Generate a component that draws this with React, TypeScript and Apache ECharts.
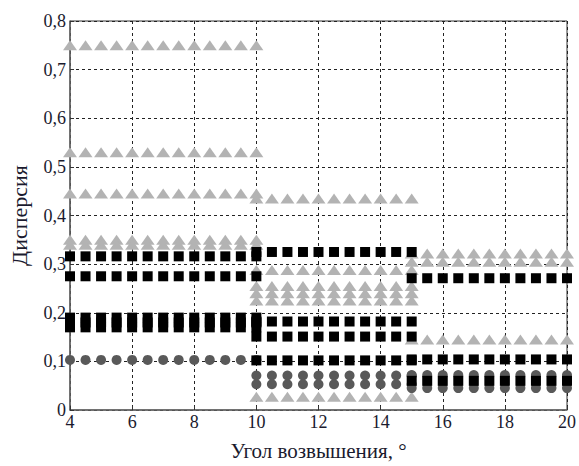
import React, { useEffect, useRef } from "react";
import * as echarts from "echarts";

// x positions (elevation angle, degrees) for the three segments
const seg1X = [4, 4.5, 5, 5.5, 6, 6.5, 7, 7.5, 8, 8.5, 9, 9.5, 10];
const seg2X = [10, 10.5, 11, 11.5, 12, 12.5, 13, 13.5, 14, 14.5, 15];
const seg3X = [15, 15.5, 16, 16.5, 17, 17.5, 18, 18.5, 19, 19.5, 20];

// dispersion levels per marker type per segment
const triangleSeg1 = [0.75, 0.53, 0.445, 0.35, 0.34];
const triangleSeg2 = [0.435, 0.288, 0.255, 0.24, 0.225, 0.027];
const triangleSeg3 = [0.322, 0.305, 0.145];

const squareSeg1 = [0.316, 0.275, 0.19, 0.18, 0.17];
const squareSeg2 = [0.325, 0.182, 0.151, 0.102];
const squareSeg3 = [0.271, 0.104, 0.06];

const circleSeg1 = [0.103];
const circleSeg2 = [0.071, 0.053];
const circleSeg3 = [0.072, 0.045];

const xTicks = [4, 6, 8, 10, 12, 14, 16, 18, 20];
const yTicks = [0, 0.1, 0.2, 0.3, 0.4, 0.5, 0.6, 0.7, 0.8];

function pairs(xs: number[], levels: number[]) {
  const out: number[][] = [];
  levels.forEach((y) => xs.forEach((x) => out.push([x, y])));
  return out;
}

const triangles = [
  ...pairs(seg1X, triangleSeg1),
  ...pairs(seg2X, triangleSeg2),
  ...pairs(seg3X, triangleSeg3),
];
const squares = [
  ...pairs(seg1X, squareSeg1),
  ...pairs(seg2X, squareSeg2),
  ...pairs(seg3X, squareSeg3),
];
const circles = [
  ...pairs(seg1X, circleSeg1),
  ...pairs(seg2X, circleSeg2),
  ...pairs(seg3X, circleSeg3),
];

const SERIF = "Times New Roman";
const TXT = "#1a1a2e";

export default function App() {
  const ref = useRef<HTMLDivElement>(null);
  useEffect(() => {
    if (!ref.current) return;
    const chart = echarts.init(ref.current, null, { renderer: "svg" });
    chart.setOption({
      animation: false,
      textStyle: { fontFamily: SERIF },
      grid: {
        left: 67,
        right: 12,
        top: 21,
        bottom: 53,
        show: true,
        borderColor: "#333",
        borderWidth: 1,
      },
      xAxis: {
        type: "value",
        min: xTicks[0],
        max: xTicks[xTicks.length - 1],
        interval: 2,
        name: "Угол возвышения, °",
        nameLocation: "middle",
        nameGap: 30,
        nameTextStyle: { fontFamily: SERIF, fontSize: 21, color: TXT },
        axisLine: { show: true, lineStyle: { color: "#666", width: 1.5 } },
        axisTick: { show: true, inside: true, length: 4, lineStyle: { color: "#333" } },
        axisLabel: { fontFamily: SERIF, fontSize: 18, color: TXT, margin: 3 },
        splitLine: { show: true, lineStyle: { color: "#222", type: [3, 3], width: 1 } },
      },
      yAxis: {
        type: "value",
        min: yTicks[0],
        max: yTicks[yTicks.length - 1],
        interval: 0.1,
        name: "Дисперсия",
        nameLocation: "middle",
        nameGap: 40,
        nameTextStyle: { fontFamily: SERIF, fontSize: 22, color: TXT },
        axisLine: { show: true, lineStyle: { color: "#666", width: 1.5 } },
        axisTick: { show: true, inside: true, length: 4, lineStyle: { color: "#333" } },
        axisLabel: {
          fontFamily: SERIF,
          fontSize: 18,
          color: TXT,
          margin: 4,
          formatter: (v: number) => (v === 0 ? "0" : v.toFixed(1).replace(".", ",")),
        },
        splitLine: { show: true, lineStyle: { color: "#222", type: [3, 3], width: 1 } },
      },
      series: [
        {
          type: "scatter",
          data: triangles,
          symbol: "triangle",
          symbolSize: [14, 10],
          itemStyle: { color: "#b3b3b3", opacity: 1 },
          z: 2,
        },
        {
          type: "scatter",
          data: circles,
          symbol: "circle",
          symbolSize: 10,
          itemStyle: { color: "#595959", opacity: 1 },
          z: 3,
        },
        {
          type: "scatter",
          data: squares,
          symbol: "rect",
          symbolSize: 10,
          itemStyle: { color: "#000000", opacity: 1 },
          z: 4,
        },
      ],
    });
    return () => chart.dispose();
  }, []);
  return <div ref={ref} style={{ width: 579, height: 466, position: "absolute", left: 0, top: 0 }} />;
}
